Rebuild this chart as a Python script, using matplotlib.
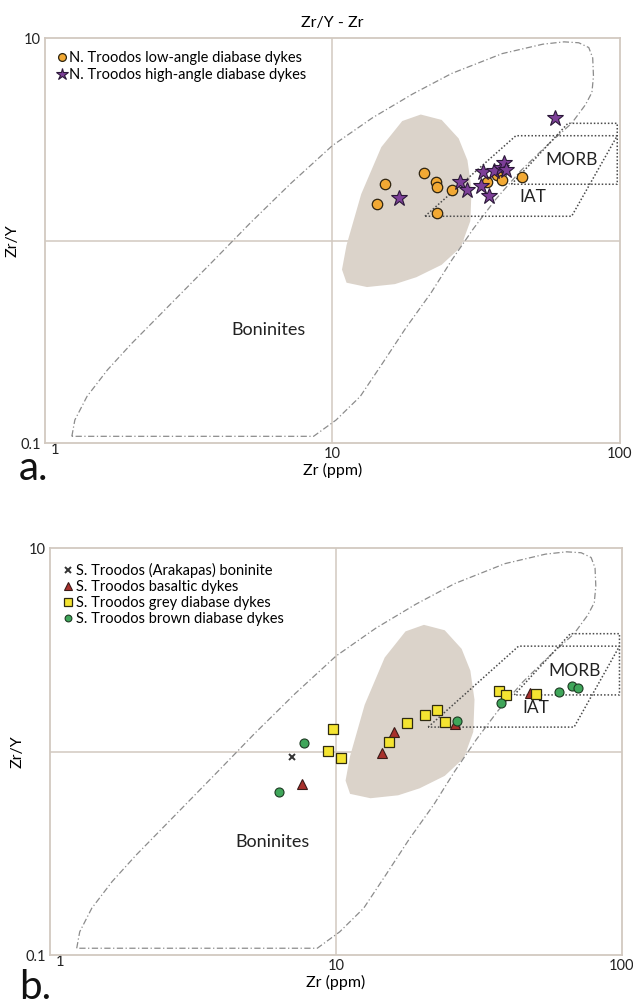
import matplotlib.pyplot as plt
from matplotlib.ticker import NullLocator
from matplotlib.transforms import ScaledTranslation

plt.rcParams['font.family'] = ['Lato', 'DejaVu Sans']

# shared discrimination fields (Zr, Zr/Y)
bon_x = [1.24, 1.27, 1.40, 1.65, 2.0, 2.75, 3.8, 5.2, 7.2, 10, 13.8, 19, 26, 39, 54, 64, 72, 78,
         80.5, 81, 80, 76, 68, 55, 45, 37, 31, 26, 22, 18, 15, 12.5, 10.3, 8.6, 1.24]
bon_y = [0.108, 0.13, 0.17, 0.23, 0.31, 0.49, 0.78, 1.23, 1.93, 2.95, 4.05, 5.3, 6.7, 8.4, 9.35, 9.6, 9.5, 9.0,
         8.0, 6.5, 5.4, 4.7, 3.8, 2.9, 2.2, 1.6, 1.15, 0.8, 0.55, 0.37, 0.25, 0.17, 0.13, 0.108, 0.108]
shade_x = [20.3, 24, 27.5, 29.5, 30.5, 30.2, 28, 24, 19.6, 16.5, 13.2, 11.2, 10.8, 11.2, 12.6, 14.8, 17.5]
shade_y = [4.2, 3.95, 3.2, 2.5, 1.8, 1.25, 0.93, 0.76, 0.66, 0.61, 0.59, 0.62, 0.72, 0.95, 1.7, 2.9, 3.9]
morb_x = [42, 66, 98, 98, 42]
morb_y = [1.9, 3.8, 3.8, 1.9, 1.9]
iat_x = [21, 43.5, 98, 68, 21]
iat_y = [1.32, 3.3, 3.3, 1.32, 1.32]

# panel a - N. Troodos
low_x = [15.3, 14.3, 20.8, 22.9, 23.1, 26.1, 23.2, 34.4, 37.4, 38.8, 45.7]
low_y = [1.90, 1.51, 2.15, 1.94, 1.85, 1.78, 1.37, 1.94, 2.12, 1.99, 2.07]
high_x = [59.7, 17.1, 27.7, 29.5, 32.9, 35.2, 33.4, 36.4, 38.6, 39.6, 40.1]
high_y = [4.02, 1.63, 1.96, 1.78, 1.86, 1.67, 2.19, 2.22, 2.29, 2.42, 2.24]

# panel b - S. Troodos
arak_x = [7.0]
arak_y = [0.94]
bas_x = [7.6, 14.5, 15.9, 26.0, 47.5]
bas_y = [0.69, 0.99, 1.25, 1.36, 1.94]
grey_x = [9.8, 9.4, 10.4, 15.3, 17.7, 20.4, 22.5, 24.0, 37.2, 39.4, 50.0]
grey_y = [1.29, 1.01, 0.93, 1.11, 1.38, 1.52, 1.60, 1.40, 1.99, 1.89, 1.91]
brown_x = [7.7, 6.3, 26.5, 37.7, 60.0, 67.0, 70.0]
brown_y = [1.10, 0.63, 1.41, 1.74, 1.96, 2.10, 2.06]

frame_col = '#D2C9C0'


def draw_fields(ax):
    ax.fill(shade_x, shade_y, color='#DBD3CA', lw=0, zorder=1)
    ax.plot(bon_x, bon_y, color='#8C8C8C', lw=0.9, linestyle=(0, (5, 2, 1, 2)), zorder=2)
    ax.plot(morb_x, morb_y, color='#4A4A4A', lw=1.1, linestyle=(0, (1, 1.3)), zorder=2)
    ax.plot(iat_x, iat_y, color='#4A4A4A', lw=1.1, linestyle=(0, (1, 1.3)), zorder=2)
    ax.text(68, 2.5, 'MORB', fontsize=12.5, ha='center', va='center', color='#222222', zorder=4)
    ax.text(50, 1.64, 'IAT', fontsize=12.5, ha='center', va='center', color='#222222', zorder=4)
    ax.text(6.0, 0.36, 'Boninites', fontsize=13, ha='center', va='center', color='#222222', zorder=4)


def style_axes(ax):
    ax.set_xscale('log')
    ax.set_yscale('log')
    ax.set_xlim(1, 100)
    ax.set_ylim(0.1, 10)
    ax.set_xticks([1, 10, 100], ['1', '10', '100'])
    ax.set_yticks([0.1, 10], ['0.1', '10'])
    ax.xaxis.set_minor_locator(NullLocator())
    ax.yaxis.set_minor_locator(NullLocator())
    ax.tick_params(length=0, labelsize=10.5, colors='#222222', pad=3)
    first = ax.get_xticklabels()[0]
    first.set_ha('left')
    first.set_transform(first.get_transform() + ScaledTranslation(4 / 72, 3 / 72, fig.dpi_scale_trans))
    for s in ax.spines.values():
        s.set_color(frame_col)
        s.set_linewidth(1.3)
    ax.axvline(10, color=frame_col, lw=1.1, zorder=0)
    ax.axhline(1, color=frame_col, lw=1.1, zorder=0)
    ax.set_xlabel('Zr (ppm)', fontsize=11.5, labelpad=1)
    ax.set_ylabel('Zr/Y', fontsize=11.5)
    ax.yaxis.set_label_coords(-0.045, 0.5)


fig = plt.figure(figsize=(6.33, 10.07), dpi=100)
ax1 = fig.add_axes([0.0711, 0.560, 0.908, 0.402])
ax2 = fig.add_axes([0.079, 0.0516, 0.9036, 0.404])

# panel a
draw_fields(ax1)
ax1.plot(low_x, low_y, linestyle='none', marker='o', ms=7.5, mfc='#F2A934', mec='#2E2410', mew=0.9,
         zorder=3, label='N. Troodos low-angle diabase dykes')
ax1.plot(high_x, high_y, linestyle='none', marker='*', ms=12, mfc='#7D3F98', mec='#2A1838', mew=0.8,
         zorder=3, label='N. Troodos high-angle diabase dykes')
style_axes(ax1)
ax1.set_title('Zr/Y - Zr', fontsize=11.5, pad=8)
ax1.legend(loc='upper left', frameon=False, fontsize=10.5, handlelength=0.5, handletextpad=0.25,
           labelspacing=0.2, borderaxespad=0.5, markerscale=0.75)

# panel b
draw_fields(ax2)
ax2.plot(arak_x, arak_y, linestyle='none', marker='x', ms=5, mec='#333333', mew=1.4,
         zorder=3, label='S. Troodos (Arakapas) boninite')
ax2.plot(bas_x, bas_y, linestyle='none', marker='^', ms=7.5, mfc='#A8302C', mec='#3A1A18', mew=0.8,
         zorder=3, label='S. Troodos basaltic dykes')
ax2.plot(grey_x, grey_y, linestyle='none', marker='s', ms=7.5, mfc='#F4E431', mec='#2E2A10', mew=0.9,
         zorder=3, label='S. Troodos grey diabase dykes')
ax2.plot(brown_x, brown_y, linestyle='none', marker='o', ms=6.5, mfc='#3FA65A', mec='#1C3A22', mew=0.8,
         zorder=3, label='S. Troodos brown diabase dykes')
style_axes(ax2)
ax2.legend(loc='upper left', frameon=False, fontsize=10.5, handlelength=0.5, handletextpad=0.25,
           labelspacing=0.15, borderaxespad=0.6, markerscale=0.75)

fig.text(0.03, 0.523, 'a.', fontsize=29, color='#111111')
fig.text(0.03, 0.008, 'b.', fontsize=29, color='#111111')

fig.savefig('out.png', dpi=100)
